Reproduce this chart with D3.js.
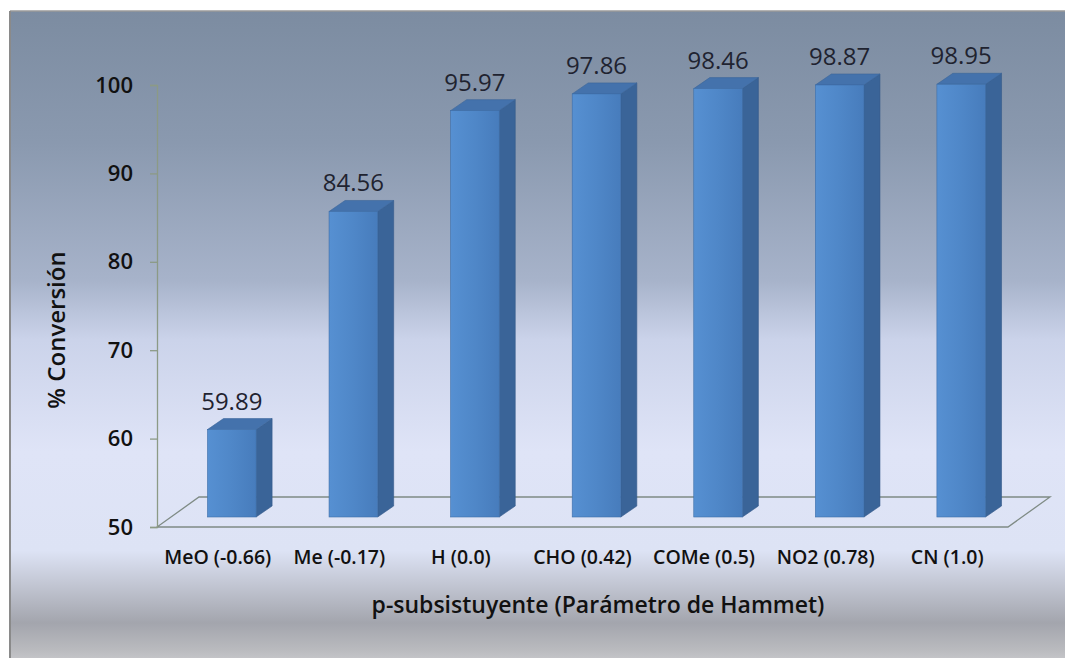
<!DOCTYPE html>
<html>
<head>
<meta charset="utf-8">
<script src="https://cdn.jsdelivr.net/npm/d3@7"></script>
<style>
  html, body { margin: 0; padding: 0; background: #ffffff; }
  svg { display: block; }
  text { font-family: "Open Sans", sans-serif; }
</style>
</head>
<body>
<svg id="chart" width="1065" height="658"></svg>
<script>
// Substituents with their Hammet parameter, and the conversion reached by each
const categories = ["MeO (-0.66)", "Me (-0.17)", "H (0.0)", "CHO (0.42)", "COMe (0.5)", "NO2 (0.78)", "CN (1.0)"];
const conversion = [59.89, 84.56, 95.97, 97.86, 98.46, 98.87, 98.95];
const yTicks = [50, 60, 70, 80, 90, 100];
const yTitle = "% Conversión";
const xTitle = "p-subsistuyente (Parámetro de Hammet)";

const W = 1065, H = 658;
const svg = d3.select("#chart");
const defs = svg.append("defs");

// Panel background: grey-blue at the top fading to pale lavender, grey band at the base
const bg = defs.append("linearGradient").attr("id", "bg")
  .attr("x1", 0).attr("y1", 0).attr("x2", 0).attr("y2", 1);
[[0, "#7c8ca1"], [0.2, "#8a99af"], [0.41, "#a7b3ca"], [0.5, "#cbd3ea"], [0.67, "#dfe4f7"],
 [0.82, "#dde3f5"], [0.87, "#c3c7d4"], [0.93, "#a3a5ad"], [0.97, "#b9babe"], [1, "#d0d0d3"]]
  .forEach(([o, c]) => bg.append("stop").attr("offset", o).attr("stop-color", c));

const front = defs.append("linearGradient").attr("id", "barFront")
  .attr("x1", 0).attr("y1", 0).attr("x2", 1).attr("y2", 0);
[[0, "#5690d2"], [0.5, "#4f87c8"], [1, "#477cbc"]]
  .forEach(([o, c]) => front.append("stop").attr("offset", o).attr("stop-color", c));

svg.append("rect").attr("x", 10).attr("y", 11).attr("width", W).attr("height", H)
  .attr("fill", "url(#bg)");
svg.append("line").attr("x1", 10).attr("x2", W).attr("y1", 11).attr("y2", 11)
  .attr("stroke", "#9a9a9a").attr("stroke-width", 1.5);
svg.append("line").attr("x1", 10).attr("x2", 10).attr("y1", 11).attr("y2", H)
  .attr("stroke", "#8a8a8a").attr("stroke-width", 2);

// Scales on the front plane of the 3-D box
const x = d3.scaleBand().domain(categories).range([157, 1008])
  .paddingInner(0.6).paddingOuter(0.3);
const y = d3.scaleLinear().domain([50, 100]).range([527, 85]);

// Depth of the floor and placement of the bars inside it
const depthX = 42, depthY = -30;
const barOffX = 14, barOffY = -10;
const barDX = 16, barDY = -11;

// Floor outline
const x0 = 157, x1 = 1008, yf = y(50);
svg.append("path")
  .attr("d", `M${x0},${yf} L${x1},${yf} L${x1 + depthX},${yf + depthY} L${x0 + depthX},${yf + depthY} Z`)
  .attr("fill", "none").attr("stroke", "#7f8b85").attr("stroke-width", 1.3);

// Value axis
const axis = svg.append("g").attr("transform", `translate(${x0},0)`)
  .call(d3.axisLeft(y).tickValues(yTicks).tickSize(7).tickPadding(17).tickFormat(d3.format("d")));
axis.select(".domain").attr("stroke", "#8c9a86").attr("stroke-width", 1.3);
axis.selectAll(".tick line").attr("stroke", "#8c9a86").attr("stroke-width", 1.3);
axis.selectAll(".tick text").attr("fill", "#111").attr("font-size", 22).attr("font-weight", 600)
  .attr("font-family", "'Open Sans', sans-serif");

// Bars: front face, side face and top
const bars = svg.append("g").selectAll("g").data(categories).join("g");
const bw = x.bandwidth();
bars.each(function (c, i) {
  const g = d3.select(this);
  const v = conversion[i];
  const bx = x(c) + barOffX;
  const top = y(v) + barOffY;
  const bot = y(50) + barOffY;
  g.append("path")
    .attr("d", `M${bx + bw},${top} L${bx + bw + barDX},${top + barDY} L${bx + bw + barDX},${bot + barDY} L${bx + bw},${bot} Z`)
    .attr("fill", "#3a6498").attr("stroke", "#34598a").attr("stroke-width", 0.6);
  g.append("path")
    .attr("d", `M${bx},${top} L${bx + barDX},${top + barDY} L${bx + bw + barDX},${top + barDY} L${bx + bw},${top} Z`)
    .attr("fill", "#4472ac").attr("stroke", "#3a6498").attr("stroke-width", 0.6);
  g.append("rect").attr("x", bx).attr("y", top).attr("width", bw).attr("height", bot - top)
    .attr("fill", "url(#barFront)").attr("stroke", "#3e6ea8").attr("stroke-width", 0.6);
  g.append("text").attr("x", bx + bw / 2).attr("y", top + barDY - 9)
    .attr("text-anchor", "middle").attr("font-size", 24).attr("fill", "#1f2330")
    .text(d3.format(".2f")(v));
});

// Category labels
svg.append("g").selectAll("text").data(categories).join("text")
  .attr("x", d => x(d) + bw / 2).attr("y", 564)
  .attr("text-anchor", "middle").attr("font-size", 19.5).attr("font-weight", 600).attr("fill", "#111")
  .text(d => d);

// Axis titles
svg.append("text").attr("transform", "translate(65,330) rotate(-90)")
  .attr("text-anchor", "middle").attr("font-size", 24).attr("font-weight", 600).attr("fill", "#111")
  .text(yTitle);
svg.append("text").attr("x", 598).attr("y", 613)
  .attr("text-anchor", "middle").attr("font-size", 23).attr("font-weight", 600).attr("fill", "#111")
  .text(xTitle);
</script>
</body>
</html>
